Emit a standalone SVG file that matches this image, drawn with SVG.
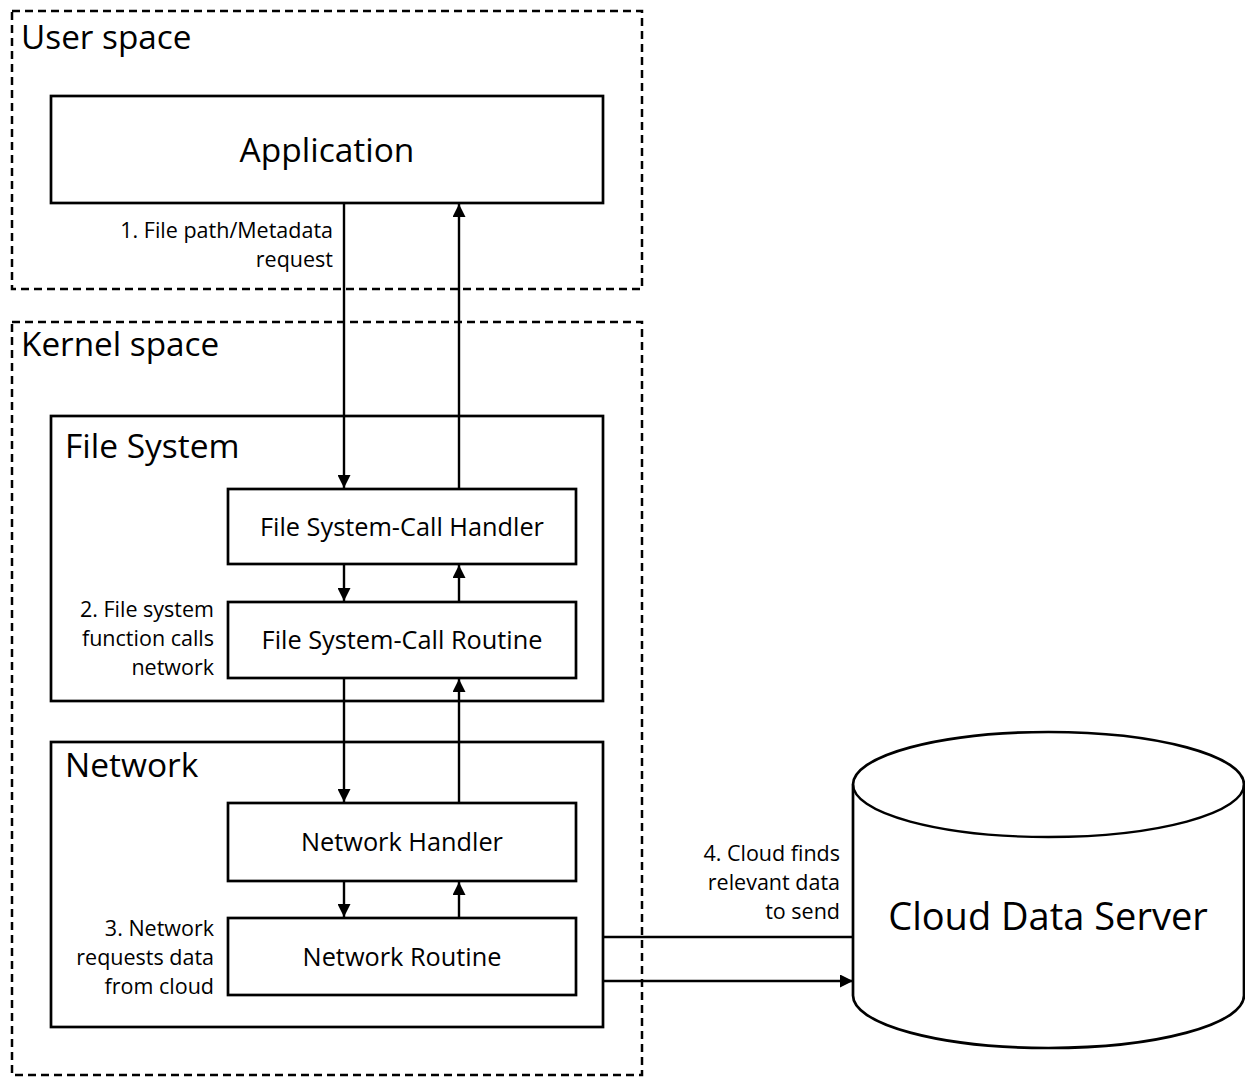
<svg xmlns="http://www.w3.org/2000/svg" width="1245" height="1077" viewBox="0 0 1245 1077">
  <style>
    text { font-family: "Open Sans", "Noto Sans", "Liberation Sans", sans-serif; fill: #000; }
    .zone { fill: none; stroke: #000; stroke-width: 2.5; stroke-dasharray: 8 5; }
    .box { fill: #fff; stroke: #000; stroke-width: 2.7; }
    .frame { fill: none; stroke: #000; stroke-width: 2.7; }
    .link { fill: none; stroke: #000; stroke-width: 2.4; }
    .zone-title { font-size: 33.3px; }
    .title { font-size: 33.5px; }
    .node-label { font-size: 25.3px; text-anchor: middle; }
    .note { font-size: 21.5px; text-anchor: end; }
  </style>
  <defs>
    <marker id="arrow" markerUnits="userSpaceOnUse" markerWidth="14" markerHeight="13" refX="13" refY="6.5" orient="auto">
      <path d="M0,0 L13,6.5 L0,13 Z" fill="#000"/>
    </marker>
  </defs>

  <!-- User space zone -->
  <g id="user-space">
    <rect class="zone" x="12" y="11" width="630" height="278"/>
    <text class="zone-title" x="21" y="49">User space</text>
  </g>

  <!-- Kernel space zone -->
  <g id="kernel-space">
    <rect class="zone" x="12" y="322" width="630" height="753"/>
    <text class="zone-title" x="21" y="356">Kernel space</text>
  </g>

  <g id="application">
    <rect class="box" x="51" y="96" width="552" height="107"/>
    <text class="title" x="327" y="162" text-anchor="middle">Application</text>
  </g>

  <g id="file-system">
    <rect class="frame" x="51" y="416" width="552" height="285"/>
    <text class="title" x="65" y="458">File System</text>
  </g>

  <g id="fs-call-handler">
    <rect class="box" x="228" y="489" width="348" height="75"/>
    <text class="node-label" x="402" y="536">File System-Call Handler</text>
  </g>

  <g id="fs-call-routine">
    <rect class="box" x="228" y="602" width="348" height="76"/>
    <text class="node-label" x="402" y="649">File System-Call Routine</text>
  </g>

  <g id="network">
    <rect class="frame" x="51" y="742" width="552" height="285"/>
    <text class="title" x="65" y="777">Network</text>
  </g>

  <g id="network-handler">
    <rect class="box" x="228" y="803" width="348" height="78"/>
    <text class="node-label" x="402" y="851">Network Handler</text>
  </g>

  <g id="network-routine">
    <rect class="box" x="228" y="918" width="348" height="77"/>
    <text class="node-label" x="402" y="966">Network Routine</text>
  </g>

  <g id="cloud-data-server">
    <path class="box" d="M853,784.5 A195.5,52.5 0 0 1 1244,784.5 L1244,995.5 A195.5,52.5 0 0 1 853,995.5 Z"/>
    <path class="link" stroke-width="2.7" d="M853,784.5 A195.5,52.5 0 0 0 1244,784.5"/>
    <text x="1048" y="930" font-size="38" text-anchor="middle">Cloud Data Server</text>
  </g>

  <!-- Connectors -->
  <g id="connectors">
    <line class="link" x1="344" y1="203" x2="344" y2="488" marker-end="url(#arrow)"/>
    <line class="link" x1="459" y1="489" x2="459" y2="204" marker-end="url(#arrow)"/>
    <line class="link" x1="344" y1="564" x2="344" y2="601" marker-end="url(#arrow)"/>
    <line class="link" x1="459" y1="602" x2="459" y2="565" marker-end="url(#arrow)"/>
    <line class="link" x1="344" y1="679" x2="344" y2="802" marker-end="url(#arrow)"/>
    <line class="link" x1="459" y1="803" x2="459" y2="679" marker-end="url(#arrow)"/>
    <line class="link" x1="344" y1="881" x2="344" y2="917" marker-end="url(#arrow)"/>
    <line class="link" x1="459" y1="918" x2="459" y2="882" marker-end="url(#arrow)"/>
    <line class="link" x1="603" y1="937" x2="853" y2="937"/>
    <line class="link" x1="603" y1="981" x2="853" y2="981" marker-end="url(#arrow)"/>
  </g>

  <!-- Step notes -->
  <g id="notes">
    <text class="note" x="333" y="238">1. File path/Metadata</text>
    <text class="note" x="333" y="267">request</text>
    <text class="note" x="214" y="617">2. File system</text>
    <text class="note" x="214" y="646">function calls</text>
    <text class="note" x="214" y="675">network</text>
    <text class="note" x="214" y="936">3. Network</text>
    <text class="note" x="214" y="965">requests data</text>
    <text class="note" x="214" y="994">from cloud</text>
    <text class="note" x="840" y="861">4. Cloud finds</text>
    <text class="note" x="840" y="890">relevant data</text>
    <text class="note" x="840" y="919">to send</text>
  </g>
</svg>
